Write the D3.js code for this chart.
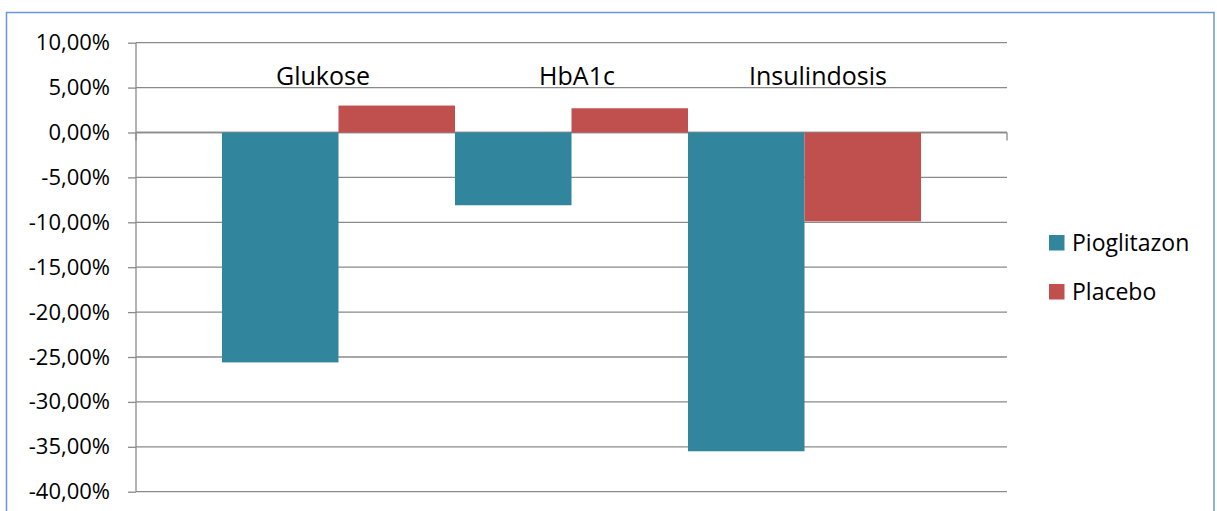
<!DOCTYPE html>
<html>
<head>
<meta charset="utf-8">
<script src="https://cdn.jsdelivr.net/npm/d3@7"></script>
<style>
  html, body { margin: 0; padding: 0; background: #fff; }
  svg { display: block; font-family: "Open Sans", "Noto Sans", sans-serif; }
</style>
</head>
<body>
<svg id="chart" width="1217" height="511"></svg>
<script>
// Relative change vs. baseline, per parameter and treatment arm (fractions)
const categories = ["Glukose", "HbA1c", "Insulindosis"];
const seriesNames = ["Pioglitazon", "Placebo"];
const pioglitazon = [-0.256, -0.081, -0.355];
const placebo = [0.030, 0.027, -0.099];
const yTicks = [0.10, 0.05, 0, -0.05, -0.10, -0.15, -0.20, -0.25, -0.30, -0.35, -0.40];

const seriesValues = [pioglitazon, placebo];
const colors = ["#31859c", "#c0504d"];

const svg = d3.select("#chart");

// Plot area
const plotLeft = 136, plotRight = 1007, plotTop = 42.7, plotBottom = 491.7;

// German number formatting: decimal comma, hyphen as minus
const de = d3.formatLocale({
  decimal: ",", thousands: ".", grouping: [3], currency: ["", " €"], minus: "-"
});
const fmt = de.format(".2%");

const y = d3.scaleLinear().domain([-0.40, 0.10]).range([plotBottom, plotTop]);

// Bar groups: adjacent groups with wide outer margins
const x0 = d3.scaleBand().domain(categories).range([plotLeft, plotRight])
  .paddingInner(0).paddingOuter(0.369);
const x1 = d3.scaleBand().domain(seriesNames).range([0, x0.bandwidth()]).padding(0);

// Chart frame
svg.append("rect")
  .attr("x", 6.5).attr("y", 12.5)
  .attr("width", 1207.5).attr("height", 520)
  .attr("fill", "none").attr("stroke", "#6a98d4").attr("stroke-width", 1.5);

// Horizontal gridlines
svg.append("g").selectAll("line").data(yTicks).join("line")
  .attr("x1", plotLeft).attr("x2", plotRight)
  .attr("y1", d => y(d)).attr("y2", d => y(d))
  .attr("stroke", "#8a8a8a").attr("stroke-width", 1.3);

// Value axis with outward ticks
const yAxis = d3.axisLeft(y).tickValues(yTicks).tickFormat(fmt).tickSize(8).tickPadding(18);
const gy = svg.append("g").attr("transform", `translate(${plotLeft},0)`).call(yAxis);
gy.select(".domain").attr("stroke", "#8a8a8a").attr("stroke-width", 1.3)
  .attr("d", `M0,${plotTop}V${plotBottom}`);
gy.selectAll(".tick line").attr("stroke", "#8a8a8a").attr("stroke-width", 1.3);
gy.selectAll(".tick text").attr("font-size", 22).attr("fill", "#000")
  .attr("font-family", "'Open Sans', sans-serif");

// Category axis along zero, with end tick marks
svg.append("line")
  .attr("x1", plotLeft).attr("x2", plotRight).attr("y1", y(0)).attr("y2", y(0))
  .attr("stroke", "#8a8a8a").attr("stroke-width", 1.3);
svg.append("g").selectAll("line").data([plotLeft, plotRight]).join("line")
  .attr("x1", d => d).attr("x2", d => d)
  .attr("y1", y(0)).attr("y2", y(0) + 8)
  .attr("stroke", "#8a8a8a").attr("stroke-width", 1.3);

// Bars
const groups = svg.append("g").selectAll("g").data(categories).join("g")
  .attr("transform", c => `translate(${x0(c)},0)`);
groups.selectAll("rect")
  .data((c, i) => seriesNames.map((s, j) => ({ s, j, v: seriesValues[j][i] })))
  .join("rect")
  .attr("x", d => x1(d.s))
  .attr("width", x1.bandwidth())
  .attr("y", d => y(Math.max(0, d.v)))
  .attr("height", d => Math.abs(y(d.v) - y(0)))
  .attr("fill", d => colors[d.j]);

// Category captions above the bars
const captionShift = [-15.5, 5.5, 13.5];
svg.append("g").selectAll("text").data(categories).join("text")
  .attr("x", (c, i) => x0(c) + x0.bandwidth() / 2 + captionShift[i])
  .attr("y", 84.5)
  .attr("text-anchor", "middle")
  .attr("font-size", 25)
  .attr("fill", "#000")
  .text(c => c);

// Legend
const legend = svg.append("g").selectAll("g").data(seriesNames).join("g")
  .attr("transform", (s, i) => `translate(1049,${235 + i * 49})`);
legend.append("rect")
  .attr("width", 15.5).attr("height", 15.5)
  .attr("fill", (s, i) => colors[i]);
legend.append("text")
  .attr("x", 23).attr("y", 15.5)
  .attr("font-size", 23)
  .attr("fill", "#000")
  .text(s => s);
</script>
</body>
</html>
